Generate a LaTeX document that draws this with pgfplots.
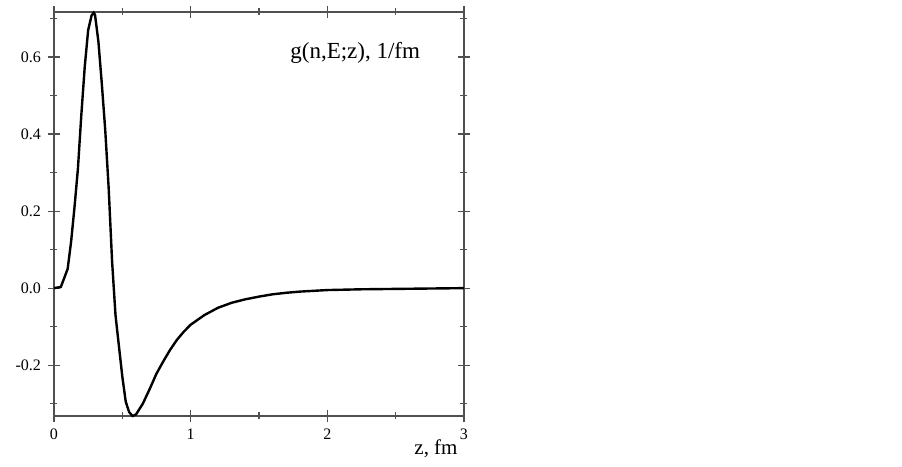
\documentclass[border=0pt]{standalone}
\usepackage{fontspec}
\setmainfont{Liberation Serif}
\usepackage{pgfplots}
\pgfplotsset{compat=1.18}
\definecolor{axgray}{RGB}{80,80,80}

\begin{document}
\begin{tikzpicture}
\path[use as bounding box] (0,0) rectangle (451pt,233.5pt);
\begin{axis}[
  at={(27pt,25.5pt)}, anchor=south west,
  scale only axis, width=205pt, height=202pt,
  xmin=0, xmax=3, ymin=-0.332, ymax=0.717,
  xtick={0,1,2,3}, xticklabels={0,1,2,3},
  minor xtick={0.5,1.5,2.5},
  ytick={-0.2,0,0.2,0.4,0.6}, yticklabels={-0.2,0.0,0.2,0.4,0.6},
  minor ytick={-0.3,-0.1,0.1,0.3,0.5,0.7},
  tick align=center,
  major tick length=6pt, minor tick length=3.5pt,
  tick style={axgray, line width=0.6pt},
  axis line style={axgray, line width=1pt},
  ticklabel style={font=\fontsize{8}{9}\selectfont},
  clip=false,
]
\addplot[black, line width=1.2pt] coordinates {
(0,0) (0.05,0.003) (0.10,0.05) (0.125,0.12) (0.15,0.21) (0.175,0.31)
(0.20,0.45) (0.225,0.575) (0.25,0.67) (0.275,0.708) (0.29,0.715) (0.30,0.71)
(0.325,0.64) (0.35,0.53) (0.375,0.41) (0.40,0.26) (0.425,0.07) (0.45,-0.07)
(0.475,-0.15) (0.50,-0.23) (0.525,-0.295) (0.55,-0.322) (0.575,-0.332) (0.60,-0.328)
(0.65,-0.300) (0.70,-0.262) (0.75,-0.222) (0.80,-0.190) (0.85,-0.160) (0.90,-0.134)
(0.95,-0.113) (1.00,-0.095) (1.10,-0.070) (1.20,-0.051) (1.30,-0.038) (1.40,-0.029)
(1.50,-0.022) (1.60,-0.016) (1.70,-0.012) (1.80,-0.009) (1.90,-0.007) (2.00,-0.005)
(2.25,-0.003) (2.50,-0.002) (2.75,-0.001) (3.00,0.000)
};
\node[anchor=base west, inner sep=0pt, font=\fontsize{11.5}{13}\selectfont] at (rel axis cs:0.5756,0.886) {g(n,E;z), 1/fm};
\node[anchor=base east, inner sep=0pt, font=\fontsize{10.5}{12}\selectfont, xshift=-3pt, yshift=-19.5pt] at (rel axis cs:1,0) {z, fm};
\end{axis}
\end{tikzpicture}
\end{document}
